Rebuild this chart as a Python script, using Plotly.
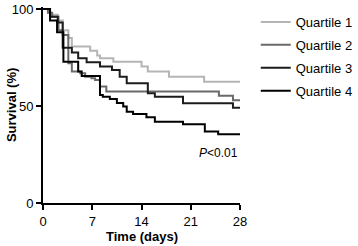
import plotly.graph_objects as go

names = ["Quartile 1", "Quartile 2", "Quartile 3", "Quartile 4"]
colors = ["#b5b5b5", "#6a6a6a", "#1c1c1c", "#000000"]

q1_t = [0, 1.0, 2.1, 2.8, 3.6, 4.1, 6.7, 7.7, 8.1, 10.0, 14.0, 14.9, 17.9, 22.9, 28]
q1_s = [100, 97, 94, 89, 85, 80.6, 78.5, 76, 74.6, 72.8, 70.3, 67.7, 65.1, 62.5, 62.5]

q2_t = [0, 0.7, 1.3, 2.2, 2.8, 3.6, 4.1, 5.3, 6.0, 6.9, 7.4, 8.1, 9.0, 25.0, 27.0, 28]
q2_s = [100, 98, 96, 89, 86.6, 72, 67.7, 66.9, 65.1, 64.3, 63.4, 60, 57.4, 55.3, 53, 53]

q3_t = [0, 1.0, 2.1, 2.8, 4.1, 5.0, 6.2, 8.1, 9.8, 10.9, 11.9, 14.9, 15.9, 19.9, 27.0, 28]
q3_s = [100, 96, 93, 80, 77.5, 74.6, 72.5, 70.3, 68.6, 65.1, 61.7, 56.5, 54.8, 51.4, 49.1, 49.1]

q4_t = [0, 1.0, 2.0, 2.9, 5.0, 5.5, 8.1, 8.5, 9.5, 10.5, 11.4, 11.9, 12.8, 14.7, 15.9, 19.9, 23.0, 24.9, 28]
q4_s = [100, 94, 88, 72.8, 67.7, 65.5, 55.7, 54.8, 53.6, 51.5, 49.7, 47, 45.9, 44.2, 41.9, 40.6, 36.8, 35.4, 35.4]

x_ticks = [0, 7, 14, 21, 28]
y_ticks = [0, 50, 100]

series = [(q1_t, q1_s), (q2_t, q2_s), (q3_t, q3_s), (q4_t, q4_s)]

fig = go.Figure()
for i, ((t, s), name, col) in enumerate(zip(series, names, colors)):
    fig.add_trace(go.Scatter(
        x=t, y=s, mode="lines", name=name, legendgroup=f"g{i}",
        line=dict(shape="hv", color=col, width=2),
    ))

font = "Liberation Sans, Arial, Helvetica, sans-serif"
fig.update_layout(
    width=358, height=246,
    margin=dict(l=43, r=118, t=7, b=43, autoexpand=False),
    paper_bgcolor="white", plot_bgcolor="white",
    font=dict(family=font, size=13, color="black"),
    showlegend=True,
    legend=dict(x=1.08, y=1.0, xanchor="left", yanchor="top",
                font=dict(size=13), tracegroupgap=3,
                bgcolor="rgba(0,0,0,0)"),
    xaxis=dict(range=[0, 28], tickvals=x_ticks, showgrid=False, zeroline=False,
               showline=True, linecolor="black", linewidth=2,
               ticks="outside", ticklen=5, tickwidth=2, tickcolor="black"),
    yaxis=dict(range=[0, 101], tickvals=y_ticks, showgrid=False, zeroline=False,
               showline=True, linecolor="black", linewidth=2,
               ticks="outside", ticklen=5, tickwidth=2, tickcolor="black"),
    annotations=[
        dict(x=28, y=26, xref="x", yref="y", xanchor="right", yanchor="middle",
             text="<i>P</i><0.01", showarrow=False, font=dict(size=12)),
        dict(x=0.5, y=-0.172, xref="paper", yref="paper", xanchor="center", yanchor="middle",
             text="<b>Time (days)</b>", showarrow=False, font=dict(size=13)),
        dict(x=-0.162, y=0.5, xref="paper", yref="paper", xanchor="center", yanchor="middle",
             text="<b>Survival (%)</b>", textangle=-90, showarrow=False, font=dict(size=13)),
    ],
)

fig.write_html("out.html", config={"displayModeBar": False},
               post_script="document.body.style.margin='0px';document.body.style.overflow='hidden';")
